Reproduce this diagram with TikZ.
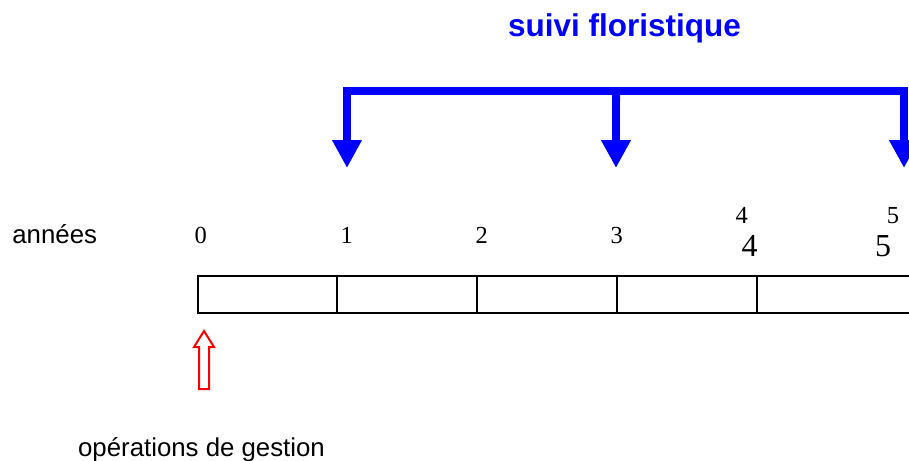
\documentclass[tikz,border=0pt]{standalone}
\usepackage{fontspec}
\setmainfont{Liberation Serif}
\setsansfont{Liberation Sans}
\usetikzlibrary{arrows.meta}

\begin{document}
\begin{tikzpicture} [x=1pt, y=-1pt, every node/.style={inner sep=0pt, anchor=base},
        cell/.style={draw, line width=2pt, minimum height=37pt, anchor=north west},
        suivi/.style={draw=blue, line width=8pt, {Triangle[length=28pt, width=28pt]}-{Triangle[length=28pt, width=28pt]}},
        annee/.style={font=\fontsize{24.5}{28}\selectfont},
        grand/.style={font=\fontsize{32}{36}\selectfont}]
            \useasboundingbox (0,0) rectangle (909,460);

            \node[text=blue, font=\sffamily\bfseries\fontsize{31.5}{36}\selectfont] (titre) at (624.5, 37) {suivi floristique};

            % bras du suivi
            \coordinate (h1) at (347, 91);
            \coordinate (h3) at (616, 91);
            \coordinate (h5) at (904, 91);
            \coordinate (p1) at (347, 168);
            \coordinate (p3) at (616, 168);
            \coordinate (p5) at (904, 168);

            \draw[suivi] (p1) -- (h1) -- (h5) -- (p5);
            \draw[suivi, {Butt Cap}-{Triangle[length=28pt, width=28pt]}] (h3) -- (p3);

            \node[font=\sffamily\fontsize{25.8}{30}\selectfont] (annees) at (54.7, 243.5) {années};

            \node[annee] (n0) at (200.7, 243) {0};
            \node[annee] (n1) at (346.7, 243) {1};
            \node[annee] (n2) at (481.7, 243) {2};
            \node[annee] (n3) at (616.7, 243) {3};
            \node[annee] (n4) at (741.7, 223) {4};
            \node[annee] (n5) at (893, 223) {5};
            \node[grand] (m4) at (749.5, 256.5) {4};
            \node[grand] (m5) at (883, 256.5) {5};

            % frise
            \node[cell, minimum width=139pt] (c0) at (197, 275) {};
            \node[cell, minimum width=140pt] (c1) at (336, 275) {};
            \node[cell, minimum width=140pt] (c2) at (476, 275) {};
            \node[cell, minimum width=140pt] (c3) at (616, 275) {};
            \node[cell, minimum width=160pt] (c4) at (756, 275) {};

            % operations
            \draw[red, line width=2pt, line join=miter]
                (204, 331) -- (214, 347) -- (209, 347) -- (209, 389)
                -- (199, 389) -- (199, 347) -- (194, 347) -- cycle;

            \node[font=\sffamily\fontsize{25.8}{30}\selectfont] (gestion) at (201.5, 456) {opérations de gestion};
        \end{tikzpicture}
\end{document}
